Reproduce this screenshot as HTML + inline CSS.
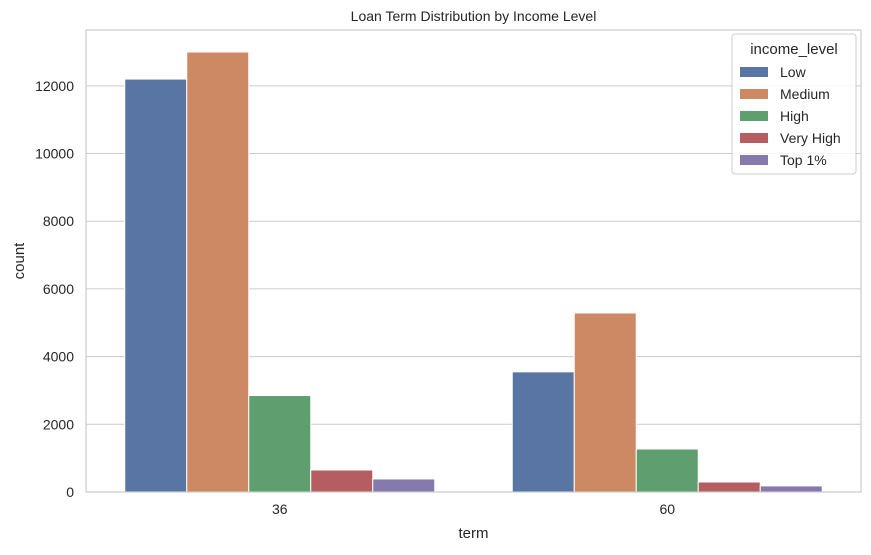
<!DOCTYPE html>
<html><head><meta charset="utf-8"><style>
body{margin:0;background:#fff;font-family:"Liberation Sans","DejaVu Sans",sans-serif}
</style></head><body>
<svg id="chart" width="871" height="550" xmlns="http://www.w3.org/2000/svg" font-family="Liberation Sans, DejaVu Sans, sans-serif">
<text x="473.5" y="21" text-anchor="middle" font-size="14" fill="#262626">Loan Term Distribution by Income Level</text>
<g id="grid"></g><g id="bars"></g><g id="axes"></g>
<text x="473.5" y="538" text-anchor="middle" font-size="15" fill="#262626">term</text>
<text transform="translate(24,261) rotate(-90)" text-anchor="middle" font-size="15" fill="#262626">count</text>
<g id="legend"></g>
</svg>
<script>
const categories=["36","60"];
const seriesNames=["Low","Medium","High","Very High","Top 1%"];
const seriesValues=[[12200,3550],[13000,5290],[2850,1270],[650,295],[385,180]];
const yTicks=[0,2000,4000,6000,8000,10000,12000];
const colors=["#5875a4","#cc8963","#5f9e6e","#b55d60","#857aab"];
const NS="http://www.w3.org/2000/svg";
const L=86,R=861,T=30,B=492,yMax=13650;
const y=v=>B-(v/yMax)*(B-T);
const band=(R-L)/categories.length;
const bw=band*0.8/seriesNames.length;
function mk(t,a,p){const e=document.createElementNS(NS,t);for(const k in a)e.setAttribute(k,a[k]);p.appendChild(e);return e;}
const grid=document.getElementById('grid'),bars=document.getElementById('bars'),axes=document.getElementById('axes'),leg=document.getElementById('legend');
yTicks.forEach(v=>{
 const l=mk('line',{x1:L,x2:R,y1:y(v),y2:y(v),stroke:'#cccccc','stroke-width':1},grid);
 
 
 const t=mk('text',{x:L-12,y:y(v)+5,'text-anchor':'end','font-size':14,fill:'#262626'},axes);
 t.textContent=v;
 
 
});
seriesValues.forEach((vals,s)=>{
 vals.forEach((v,c)=>{
  const x=L+band*c+band*0.1+bw*s;
  const r=mk('rect',{x:x,y:y(v),width:bw,height:B-y(v),fill:colors[s],stroke:'#fff','stroke-width':1},bars);
  
  
 });
});
categories.forEach((c,i)=>{
 const t=mk('text',{x:L+band*(i+0.5),y:B+22,'text-anchor':'middle','font-size':14,fill:'#262626'},axes);
 t.textContent=c;
 
 
});
const fr=mk('rect',{x:L,y:T,width:R-L,height:B-T,fill:'none',stroke:'#cccccc','stroke-width':1.2},axes);


const lb=mk('rect',{x:732,y:34,width:124,height:140,rx:3,fill:'#fff','fill-opacity':0.8,stroke:'#cccccc'},leg);


const lt=mk('text',{x:794,y:54,'text-anchor':'middle','font-size':15,fill:'#262626'},leg);
lt.textContent='income_level';


seriesNames.forEach((n,i)=>{
 const yy=72+i*22;
 const p=mk('rect',{x:740,y:yy-5,width:28,height:10,fill:colors[i]},leg);
 
 
 const t=mk('text',{x:780,y:yy+5,'font-size':14,fill:'#262626'},leg);
 t.textContent=n;
 
 
});
</script>
</body></html>
